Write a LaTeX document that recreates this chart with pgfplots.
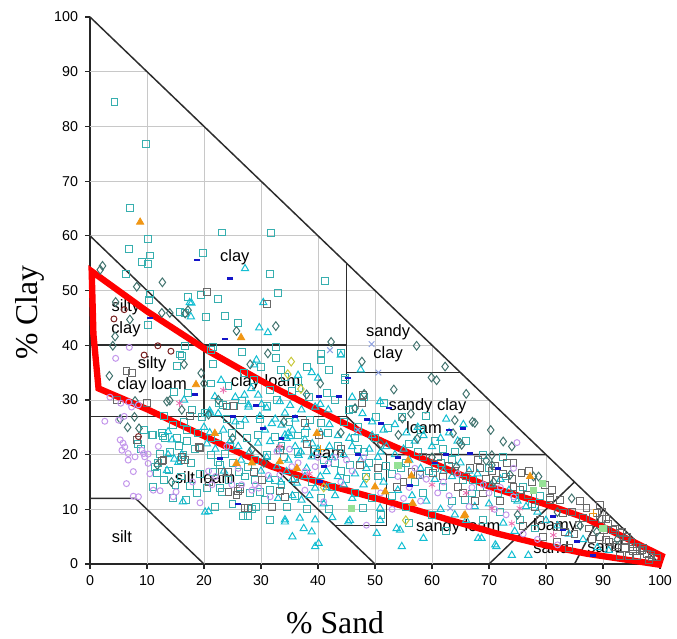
\documentclass[border=0pt]{standalone}
\usepackage{fontspec}
\setmainfont{Liberation Sans}
\newfontfamily\timesfont{Liberation Serif}
\usepackage{pgfplots}
\pgfplotsset{compat=1.18}

\definecolor{tealsq}{RGB}{55,175,175}
\definecolor{cyantri}{RGB}{20,190,210}
\definecolor{graysq}{RGB}{105,105,105}
\definecolor{diam}{RGB}{65,115,110}
\definecolor{violet}{RGB}{195,150,235}
\definecolor{orangetri}{RGB}{240,150,20}
\definecolor{bluedash}{RGB}{20,20,200}
\definecolor{darkred}{RGB}{120,30,30}
\definecolor{pinkast}{RGB}{235,110,175}
\definecolor{lightbluex}{RGB}{140,160,225}
\definecolor{yellowd}{RGB}{200,200,60}
\definecolor{lightgreen}{RGB}{150,225,150}
\definecolor{zoneline}{RGB}{45,45,45}
\definecolor{gridc}{RGB}{200,200,200}

\tikzset{
    zone/.style={zoneline, line width=0.75pt},
    gl/.style={gridc, line width=0.4pt},
    lbl/.style={font=\fontsize{8.3}{9}\selectfont, inner sep=0pt},
}

\begin{document}
\begin{tikzpicture}
\begin{axis}[
    name=ax,
    scale only axis,
    width=10.103cm, height=9.696cm,
    xmin=0, xmax=100, ymin=0, ymax=100,
    axis lines=left,
    axis line style={-, draw=black!85, line width=0.8pt},
    xtick={0,10,...,100}, ytick={0,10,...,100},
    tick align=outside,
    major tick length=2.5pt,
    tick style={black!85, line width=0.6pt},
    ticklabel style={font=\fontsize{7.2}{8}\selectfont},
    /pgf/number format/assume math mode=true,
    xlabel={\timesfont\fontsize{16}{18}\selectfont \% Sand},
    xlabel style={at={(axis description cs:0.43,-0.108)}, anchor=center},
    ylabel={\timesfont\fontsize{16}{18}\selectfont \% Clay},
    ylabel style={at={(axis description cs:-0.105,0.46)}, anchor=center},
    clip=false,
]

% grid, only inside the triangle
\draw[gl] (axis cs:10,0) -- (axis cs:10,90);
\draw[gl] (axis cs:20,0) -- (axis cs:20,80);
\draw[gl] (axis cs:30,0) -- (axis cs:30,70);
\draw[gl] (axis cs:40,0) -- (axis cs:40,60);
\draw[gl] (axis cs:50,0) -- (axis cs:50,50);
\draw[gl] (axis cs:60,0) -- (axis cs:60,40);
\draw[gl] (axis cs:70,0) -- (axis cs:70,30);
\draw[gl] (axis cs:80,0) -- (axis cs:80,20);
\draw[gl] (axis cs:90,0) -- (axis cs:90,10);
\draw[gl] (axis cs:0,10) -- (axis cs:90,10);
\draw[gl] (axis cs:0,20) -- (axis cs:80,20);
\draw[gl] (axis cs:0,30) -- (axis cs:70,30);
\draw[gl] (axis cs:0,40) -- (axis cs:60,40);
\draw[gl] (axis cs:0,50) -- (axis cs:50,50);
\draw[gl] (axis cs:0,60) -- (axis cs:40,60);
\draw[gl] (axis cs:0,70) -- (axis cs:30,70);
\draw[gl] (axis cs:0,80) -- (axis cs:20,80);
\draw[gl] (axis cs:0,90) -- (axis cs:10,90);

% texture class boundaries
\addplot[zone, mark=none] coordinates {(0,100) (100,0)};
\addplot[zone, mark=none] coordinates {(0,60) (20,40)};
\addplot[zone, mark=none] coordinates {(0,40) (45,40)};
\addplot[zone, mark=none] coordinates {(45,55) (45,27)};
\addplot[zone, mark=none] coordinates {(20,40) (20,27)};
\addplot[zone, mark=none] coordinates {(0,27) (45,27)};
\addplot[zone, mark=none] coordinates {(45,35) (65,35)};
\addplot[zone, mark=none] coordinates {(45,27) (52,20) (80,20)};
\addplot[zone, mark=none] coordinates {(52,20) (52,7) (43,7)};
\addplot[zone, mark=none] coordinates {(23,27) (50,0)};
\addplot[zone, mark=none] coordinates {(0,12) (8,12) (20,0)};
\addplot[zone, mark=none] coordinates {(70,0) (85,15)};
\addplot[zone, mark=none] coordinates {(85,0) (90,10)};

% teal squares
\addplot[only marks, mark=square, mark size=1.75pt, color=tealsq, mark options={line width=0.5pt}] coordinates {
(4.3,84.5) (9.8,76.8) (7.1,65.0) (10.2,59.5) (6.9,57.6) (10.6,56.4) (9.2,55.2) (10.1,54.9) (6.3,53.0) (19.9,56.9)
(23.2,60.6) (31.8,60.5) (31.6,53.1) (33.0,49.6) (41.3,51.8) (10.6,49.4) (10.3,48.3) (19.5,49.2) (22.4,48.5) (17.2,48.9)
(15.8,46.1) (16.6,45.9) (20.3,45.2) (23.7,45.3) (26.0,44.0) (10.1,43.7) (15.8,38.3) (16.7,39.9) (21.2,39.1) (16.1,38.0)
(15.2,36.2) (14.8,31.5) (17.2,31.2) (17.9,28.2) (20.2,27.6) (19.6,26.9)
(26.6,38.8) (32.6,39.7) (32.6,37.6) (21.5,39.6) (40.6,38.4) (40.6,37.3) (21.2,33.0) (24.3,32.5) (28.7,33.6) (31.6,31.8)
(35.5,31.7) (36.6,32.1) (41.5,31.2) (22.6,29.5) (25.1,28.9) (26.6,29.9) (31.0,28.9) (32.8,30.0) (34.2,34.2) (23.4,29.1)
(38.0,36.0) (36.5,33.5) (42.0,35.5) (44.7,33.6) (30.0,36.0) (27.0,35.0) (33.5,35.5) (43.0,30.0) (38.5,30.5) (21.5,36.5) (44.0,38.5)
(10.8,23.6) (12.8,23.4) (15.2,23.0) (15.6,21.5) (16.4,19.9) (14.0,20.5) (12.2,20.2) (13.9,17.1) (13.0,15.4) (11.7,16.6)
(15.9,19.0) (17.8,18.4) (16.8,11.7) (17.5,14.2) (19.3,16.5) (11.1,23.6) (12.6,23.9) (13.2,23.0) (11.4,17.8) (8.5,22.0)
(9.5,24.5) (17.0,22.5) (18.5,21.0) (14.5,25.5) (12.0,18.5) (16.0,16.0) (18.8,13.0) (14.5,12.0) (9.0,21.0) (19.0,24.0)
(11.0,14.0) (15.0,14.5) (17.0,24.5) (13.0,27.0) (16.5,26.0)
(20.5,13.9) (23.1,13.2) (26.3,14.0) (28.5,10.0) (28.0,13.0) (26.2,16.8) (29.0,15.4) (22.8,18.1) (25.1,18.4) (26.3,25.4)
(27.6,23.0) (29.8,26.5) (21.3,19.9) (22.5,18.7) (23.7,20.2) (21.6,16.9) (22.8,13.9) (24.3,15.4) (27.8,17.8) (27.2,16.0)
(29.8,13.2) (30.7,11.7) (29.2,10.5) (27.8,8.7) (31.6,13.5) (33.6,14.5) (32.5,15.4) (21.3,23.0) (22.5,23.3) (24.9,23.9)
(33.6,21.5) (32.5,23.3) (29.5,23.6) (37.7,23.9) (38.6,26.3) (40.6,25.7) (41.8,23.9) (41.0,19.0) (26.9,8.7) (20.5,27.6)
(24.0,26.5) (35.0,26.0) (31.0,20.0) (36.0,12.5) (38.0,10.0) (40.5,12.0) (42.5,14.0) (44.0,17.0) (45.6,18.1) (47.9,10.2)
(46.5,13.0) (49.5,12.0) (48.0,20.5) (50.5,16.0) (43.5,21.5) (46.5,23.0) (39.0,15.0) (34.5,10.5) (31.5,8.0) (25.0,11.0)
(22.0,10.5) (44.5,26.0) (47.0,25.0) (50.0,23.0) (42.0,10.0) (36.5,20.5) (29.0,19.0) (24.5,21.5)
(34.0,19.5) (36.5,23.5) (39.5,20.5) (43.0,18.5) (45.0,15.5) (47.0,21.0) (49.0,18.5) (53.0,16.5) (55.5,18.5) (57.5,20.5)
(59.5,17.0) (61.5,18.5) (63.5,19.0)
(45.5,28.2) (46.1,28.3) (50.1,26.9) (52.3,24.8) (54.7,26.9) (44.7,34.1) (58.0,24.5) (60.5,22.5) (62.0,21.0) (56.0,22.0)
(66.0,22.5) (48.0,30.5) (51.5,29.5) (59.0,27.0) (64.0,20.5) (69.0,20.0) (72.5,19.5)
(52.0,18.0) (54.5,17.5) (57.0,15.0) (53.0,12.5) (55.5,10.5) (58.5,13.0) (60.5,17.5) (62.0,14.0) (63.5,11.5) (65.5,15.4)
(67.2,15.4) (68.4,14.1) (67.0,12.9) (65.8,11.7) (70.0,17.5) (71.5,13.0) (73.0,16.0) (74.5,12.0) (76.0,14.0) (77.5,11.0)
(79.0,12.5) (60.0,9.0) (56.0,7.5) (62.5,6.0) (72.0,9.5) (75.5,8.0) (78.0,6.5) (69.0,8.0) (51.0,9.0) (48.5,16.0)
};

% cyan triangles
\addplot[only marks, mark=triangle, mark size=2.1pt, color=cyantri, mark options={line width=0.5pt}] coordinates {
(27.2,54.0) (30.4,47.8) (17.5,47.8) (17.7,45.2) (17.8,47.7) (29.7,43.2) (31.2,42.3) (29.2,37.3) (28.8,36.4) (38.9,35.0)
(23.0,33.6) (28.3,32.1) (27.1,30.9) (29.5,30.9) (21.9,30.6) (40.4,29.2) (27.8,28.7) (30.1,29.2) (33.3,29.7) (35.1,29.0)
(39.5,28.7) (16.5,30.0) (44.0,38.2) (50.9,29.7) (47.8,27.5) (40.0,34.0) (36.5,34.5) (21.0,28.0) (22.5,27.5) (25.5,30.5)
(27.8,29.1) (31.0,28.5) (29.8,27.0) (34.2,27.6) (37.1,28.2) (30.7,24.5) (31.9,25.7) (34.2,23.6) (35.1,23.3) (34.8,23.9)
(34.5,23.0) (36.0,21.5) (37.7,22.7) (36.6,19.9) (38.9,19.6) (34.8,19.0) (32.8,17.8) (34.5,16.9) (36.3,14.8) (37.7,16.0)
(40.4,16.0) (41.5,16.9) (39.5,13.9) (37.1,11.7) (34.2,8.1) (36.8,8.4) (39.5,8.1) (20.8,9.6) (41.8,28.2) (26.0,21.5)
(23.4,24.5) (21.1,27.6) (27.2,26.3) (24.6,22.4) (29.5,22.1) (31.6,22.4) (33.6,25.4) (13.5,17.1) (16.3,11.4) (20.2,9.5)
(34.2,7.7) (38.9,5.9) (39.5,3.2) (40.1,3.8) (13.7,24.2) (14.4,22.7) (13.7,20.0) (14.8,19.2) (15.5,18.6) (16.1,20.0)
(20.0,25.0) (21.0,24.0) (20.5,22.0) (22.0,21.0) (23.5,17.0) (26.5,19.0) (28.0,20.5) (30.0,17.0) (31.5,15.5) (33.0,12.0)
(35.5,12.5) (38.0,17.5) (40.0,21.0) (42.5,19.5) (43.5,23.5) (42.0,25.5) (38.0,25.0) (36.0,26.5) (32.5,26.5) (25.5,26.0)
(41.0,11.0) (42.5,8.5) (43.0,12.5) (37.5,6.5) (35.5,5.0)
(33.0,21.0) (35.5,24.5) (37.0,20.5) (39.0,22.0) (40.5,24.0) (42.0,21.5) (43.5,16.0) (41.5,14.0) (38.5,12.5) (35.5,15.5)
(33.5,15.0) (31.0,19.5) (44.5,14.5) (46.0,12.0) (48.5,17.5) (49.5,23.5) (51.0,20.5)
(45.3,7.7) (50.9,8.0) (54.7,3.2) (53.8,6.5) (50.3,5.6) (58.5,4.7) (68.1,4.7) (68.7,4.7) (71.3,3.2) (74.0,1.6)
(76.9,1.6) (71.1,3.5) (54.4,6.2) (50.9,10.2) (45.6,8.0) (44.5,20.0) (46.0,21.5) (47.5,19.0) (49.0,21.0) (50.5,19.5)
(52.0,21.5) (53.5,20.0) (55.0,21.0) (57.0,22.5) (58.5,23.5) (60.0,21.5) (61.5,23.0) (63.0,24.0) (64.5,22.5) (56.0,19.0)
(58.0,17.5) (60.5,15.5) (62.0,17.0) (63.5,16.0) (65.0,18.5) (66.5,17.0) (68.0,16.5) (70.5,14.5) (72.0,15.5) (73.5,13.5)
(75.0,11.5) (76.5,10.5) (78.5,9.5) (80.0,8.0) (82.0,7.0) (84.0,5.5) (86.5,4.5) (89.0,3.0) (91.0,2.5) (46.5,16.5)
(48.0,14.5) (51.5,15.0) (54.0,13.5) (56.5,12.5) (59.0,11.5) (61.5,10.0) (64.0,9.0) (66.0,8.0) (67.5,10.5) (70.0,11.0)
(72.5,7.5) (74.5,6.0) (57.5,25.0) (55.5,24.0) (53.5,25.5) (51.5,24.5) (49.5,26.0) (47.0,24.0) (45.5,23.0) (62.5,26.5)
(65.5,25.5) (47.5,35.5) (46.0,30.5)
};

% gray squares
\addplot[only marks, mark=square, mark size=1.75pt, color=graysq, mark options={line width=0.5pt}] coordinates {
(20.6,49.7) (31.1,47.5) (6.4,35.3) (7.3,35.0) (4.7,30.0) (8.2,22.6) (12.6,18.8) (19.1,21.4) (27.1,10.2) (24.3,13.2)
(26.3,13.8) (20.8,15.0) (23.2,16.9) (28.7,16.9) (12.9,19.0) (16.1,19.6) (16.7,19.0) (19.3,21.2) (24.0,28.8) (25.3,28.9)
(33.3,20.9) (27.8,10.2) (34.2,12.3) (33.3,13.4) (26.0,13.4) (25.7,12.6) (24.2,16.9) (30.1,15.4) (40.1,23.6) (37.7,25.7)
(47.8,29.4) (47.9,30.9) (47.4,18.1) (56.4,16.9) (57.9,16.3) (60.2,16.6) (53.8,14.1) (73.1,18.4) (75.7,16.6) (71.3,15.4)
(79.8,14.4) (80.7,12.0) (82.4,11.7) (83.0,9.3) (87.1,10.2) (88.9,9.3) (89.8,8.3) (90.9,7.4) (91.8,6.2) (93.0,5.6)
(94.1,4.4) (95.3,3.2) (96.5,2.3) (97.7,1.9) (98.5,1.3) (90.6,4.4) (92.1,3.2) (74.3,18.4) (66.7,17.5) (69.0,12.9)
(74.3,14.1) (76.9,12.6) (80.7,11.7) (78.9,8.0) (81.9,6.8) (83.3,5.9) (81.0,13.5) (89.5,10.8) (89.8,9.6) (90.6,8.3)
(92.1,6.5) (93.3,5.9) (94.2,5.0) (95.0,4.1) (95.9,3.2) (96.8,2.6) (98.5,1.6) (99.4,1.2) (90.1,6.2) (89.5,5.0)
(91.0,4.1) (92.4,3.5) (93.9,2.9) (95.3,2.3) (88.3,8.6) (85.7,7.1) (63.0,18.0) (64.5,14.0) (61.0,19.5) (68.0,19.0)
(70.5,17.0) (72.0,11.5) (77.5,15.0) (78.0,10.5) (84.5,9.5) (86.0,11.5) (85.0,5.5) (87.5,6.5) (86.5,8.5) (88.0,4.5)
(96.0,1.5) (97.0,3.0) (94.5,1.5) (98.0,0.8) (93.0,1.5) (82.0,4.0) (84.0,3.0) (79.5,5.0) (76.0,7.0) (58.5,19.5)
(55.0,15.0) (50.5,17.5) (44.0,21.0) (36.0,15.5) (32.0,10.5) (38.0,22.0) (17.5,27.0) (10.0,29.5)
(62.0,16.0) (64.0,17.0) (66.0,16.0) (68.5,17.5) (69.5,15.5) (71.0,18.0) (72.5,16.5) (74.0,15.5) (75.5,13.5) (77.0,17.0)
(65.5,13.0) (67.5,11.5)
};

% diamonds
\addplot[only marks, mark=diamond, mark size=2.2pt, color=diam, mark options={line width=0.5pt}] coordinates {
(2.2,54.5) (1.8,53.8) (8.2,50.7) (12.7,51.5) (17.2,46.4) (16.7,45.8) (14.0,45.9) (12.6,45.9) (4.5,47.9) (4.4,41.6)
(7.0,44.7) (4.0,39.9) (16.5,36.5) (19.5,34.9) (3.4,34.4) (16.1,28.2) (13.5,29.7) (7.9,29.8) (8.6,24.8) (6.6,25.0)
(7.8,26.9) (5.3,26.5) (11.8,18.1) (14.3,15.0) (14.0,29.9) (25.7,42.6) (32.6,43.5) (31.2,38.5) (28.1,36.5) (42.3,40.6)
(40.4,33.0) (20.8,27.3) (28.4,20.9) (57.3,39.9) (47.7,37.0) (62.3,36.1) (59.9,34.1) (60.8,33.6) (53.3,31.9) (48.1,31.1)
(66.0,31.1) (64.0,26.3) (67.1,26.0) (70.3,24.5) (72.5,22.4) (74.0,21.5) (65.2,21.8) (54.1,23.6) (69.5,18.9) (70.5,19.9)
(64.3,17.8) (73.7,16.3) (70.8,15.0) (77.8,16.0) (84.5,12.0) (67.5,25.8) (64.9,22.2) (70.5,18.1) (78.7,16.0) (56.3,27.5)
(54.8,26.6) (57.4,22.9) (63.7,23.9) (88.9,5.9) (34.0,26.0) (30.5,18.5) (44.0,24.0) (38.0,31.0) (25.0,23.0) (46.5,28.5)
(51.0,22.0) (60.0,19.5) (75.0,9.0) (82.0,9.5) (86.0,7.0) (92.5,4.5) (20.0,33.0) (22.5,30.0)
};

% violet circles
\addplot[only marks, mark=o, mark size=1.5pt, color=violet, mark options={line width=0.5pt}] coordinates {
(6.9,39.6) (4.5,37.6) (5.4,29.4) (8.5,29.1) (2.6,26.1) (5.0,26.3) (5.3,22.7) (5.8,22.1) (6.1,21.4) (5.6,20.8)
(6.7,20.2) (7.9,19.6) (6.7,19.0) (9.1,20.8) (9.6,19.6) (10.2,18.4) (7.6,16.9) (6.4,14.7) (7.6,12.4) (8.5,12.3)
(11.1,13.5) (12.3,13.4) (9.4,20.2) (10.2,20.1) (14.6,12.3) (15.1,13.2) (19.3,11.2) (21.4,14.5) (20.8,17.0) (24.9,14.5)
(26.6,14.5) (29.6,13.9) (31.3,16.2) (6.0,27.0) (6.8,29.6) (7.3,28.7) (29.0,14.5) (28.4,13.5) (31.6,12.3) (33.3,16.3)
(32.8,20.6) (35.4,17.8) (37.7,16.9) (39.5,17.8) (41.8,18.4) (41.0,11.4) (37.7,13.5) (48.5,7.1) (74.9,22.2) (74.3,17.5)
(74.3,12.3) (24.0,21.5) (22.0,16.0) (26.0,17.5) (44.0,15.0) (46.0,17.0) (48.0,19.5) (51.0,13.0) (54.0,16.0) (56.0,14.0)
(59.0,15.5) (61.0,13.0) (63.0,12.5) (66.5,10.5) (69.0,14.5) (71.0,10.0) (73.0,9.0) (76.0,5.5) (78.5,4.5) (82.0,3.5)
(58.0,11.5) (53.0,10.0) (43.0,19.5) (35.0,21.0) (18.0,15.0) (3.5,30.5) (10.5,16.5) (12.0,21.5)
(62.0,15.0) (64.5,16.5) (67.0,14.0) (70.0,13.0) (72.0,14.0) (57.0,17.5) (55.0,12.0) (45.0,19.0) (40.0,19.5) (36.5,18.5)
};

% orange filled triangles
\addplot[only marks, mark=triangle*, mark size=2.1pt, color=orangetri] coordinates {
(8.8,62.5) (26.5,41.4) (18.6,32.8) (21.9,23.9) (25.7,18.4) (28.4,18.5) (33.3,18.7) (36.3,17.5) (39.8,23.9) (55.8,18.9)
(56.4,16.1) (50.0,14.1) (51.8,13.2) (56.6,11.1) (65.8,9.0) (77.2,16.0) (65.6,8.8)
};

% blue dashes
\addplot[only marks, mark=-, mark size=1.5pt, color=bluedash, mark options={line width=1.3pt}] coordinates {
(18.8,55.6) (24.6,52.2) (23.7,41.1) (40.1,30.6) (29.2,29.0) (25.1,27.0) (30.4,24.8) (33.6,23.0) (22.8,19.3) (40.4,15.1)
(41.0,17.8) (43.7,30.6) (45.3,34.0) (52.5,28.5) (48.6,26.4) (51.0,25.7) (63.0,24.5) (65.4,24.8) (66.7,20.2) (56.1,14.4)
(81.2,8.7) (83.0,6.2) (85.4,4.1) (88.3,1.6) (10.5,45.0) (18.5,31.0) (47.0,20.0) (54.0,19.5) (60.5,18.5) (62.5,20.0)
(71.5,17.5) (36.0,27.0) (26.0,11.0)
};

% dark red circles
\addplot[only marks, mark=o, mark size=1.5pt, color=darkred, mark options={line width=0.5pt}] coordinates {
(4.2,44.8) (11.9,39.9) (14.2,38.9) (9.5,38.2) (8.5,23.3) (6.0,46.5)
};

% pink asterisks
\addplot[only marks, mark=asterisk, mark size=1.8pt, color=pinkast, mark options={line width=0.4pt}] coordinates {
(15.7,29.4) (23.4,31.8) (70.5,10.2) (74.0,7.4) (75.4,10.2) (81.3,5.3) (33.3,21.5) (60.0,14.5) (38.5,16.5) (66.0,13.0)
};

% light blue crosses
\addplot[only marks, mark=x, mark size=2pt, color=lightbluex, mark options={line width=0.5pt}] coordinates {
(42.1,39.1) (49.4,40.2) (50.6,35.0) (63.2,10.2) (58.0,16.0) (47.0,24.5)
};

% yellow diamonds
\addplot[only marks, mark=diamond, mark size=2.2pt, color=yellowd, mark options={line width=0.5pt}] coordinates {
(35.3,37.0) (34.7,34.7) (48.5,15.7) (55.4,8.0) (37.0,32.0) (41.0,14.0)
};

% light green squares
\addplot[only marks, mark=square*, mark size=1.6pt, color=lightgreen] coordinates {
(45.9,10.2) (79.4,14.7) (77.8,13.5) (54.0,18.0) (90.0,6.5)
};

% orange plus
\addplot[only marks, mark=+, mark size=2pt, color=orangetri, mark options={line width=0.5pt}] coordinates {
(88.3,9.3) (40.5,21.0)
};

% class names
\node[lbl] at (axis cs:25.4,56.0) {clay};
\node[lbl] at (axis cs:6.3,47.0) {silty};
\node[lbl] at (axis cs:6.3,43.0) {clay};
\node[lbl] at (axis cs:10.9,36.6) {silty};
\node[lbl] at (axis cs:10.9,32.7) {clay loam};
\node[lbl] at (axis cs:30.8,33.3) {clay loam};
\node[lbl] at (axis cs:52.3,42.3) {sandy};
\node[lbl] at (axis cs:52.3,38.4) {clay};
\node[lbl] at (axis cs:59.2,28.8) {sandy clay};
\node[lbl] at (axis cs:58.6,25.0) {loam};
\node[lbl] at (axis cs:41.6,20.3) {loam};
\node[lbl] at (axis cs:20.2,15.8) {silt loam};
\node[lbl] at (axis cs:5.6,5.0) {silt};
\node[lbl] at (axis cs:64.6,6.8) {sandy loam};
\node[lbl] at (axis cs:81.6,7.0) {loamy};
\node[lbl] at (axis cs:80.9,3.0) {sand};
\node[lbl] at (axis cs:90.4,3.1) {sand};

% highlighted envelope
\addplot[red, line width=3.2pt, line join=miter, mark=none] coordinates {
(0.3,53.5) (10,46.2) (20.5,39.1) (30,33.5) (39.5,28.4) (45,25.5) (52,22.1) (60,18.5) (70.2,14.1) (80,10.9) (86.5,8.6)
(100.3,1.5) (99.8,-0.1) (87.1,1.9) (80,3.4) (71.3,5.6) (60,9.0) (52,11.5) (42.2,14.3) (31.9,17.8) (26.3,20.3)
(20.2,23.3) (10,28.3) (1.5,32.1) (0.6,42) (0.3,53.5)
} -- cycle;

\end{axis}
\pgfresetboundingbox
\useasboundingbox ([shift={(-1.595cm,-1.312cm)}]ax.south west) rectangle ([shift={(0.301cm,0.301cm)}]ax.north east);
\end{tikzpicture}
\end{document}
